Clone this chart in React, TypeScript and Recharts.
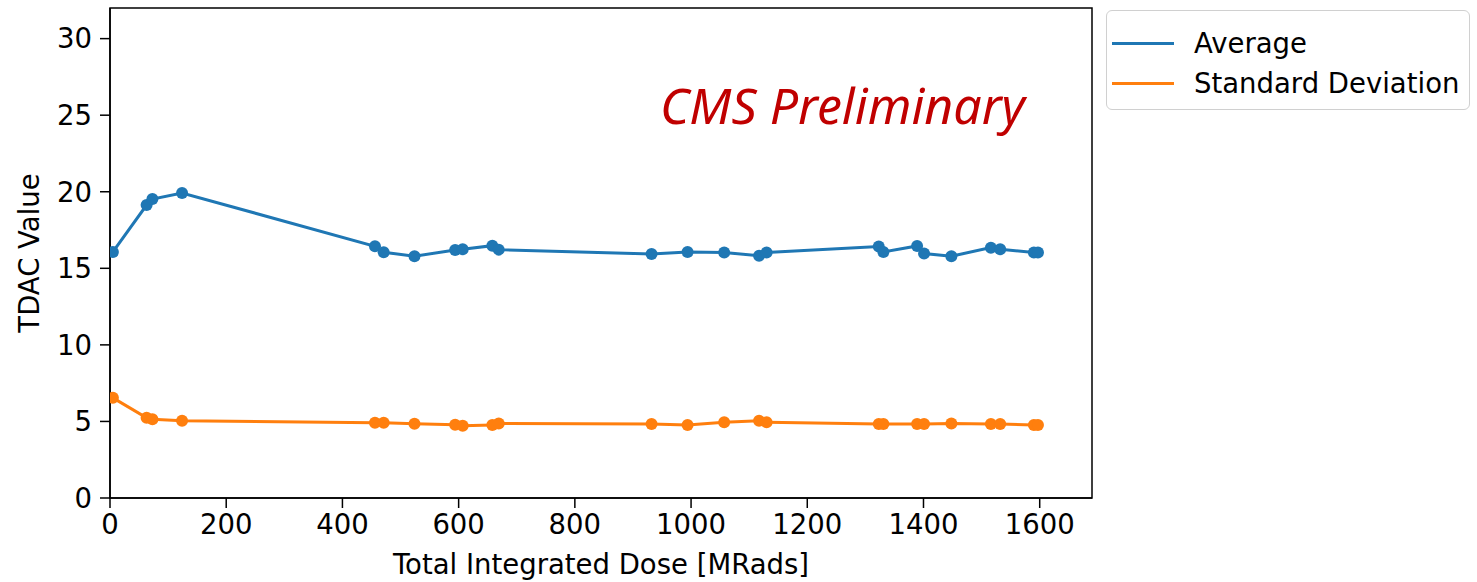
import { LineChart, Line, XAxis, YAxis, ReferenceArea, Label } from 'recharts';

// dose in MRads
const doses = [5, 63, 73, 124, 456, 471, 524, 594, 607, 658, 669, 932, 994, 1057, 1117, 1130, 1323, 1331, 1389, 1401, 1448, 1516, 1532, 1590, 1597];
const averages = [16.07, 19.13, 19.52, 19.92, 16.44, 16.05, 15.79, 16.2, 16.24, 16.48, 16.22, 15.94, 16.07, 16.03, 15.82, 16.04, 16.42, 16.07, 16.46, 15.96, 15.79, 16.35, 16.24, 16.04, 16.03];
const stdDevs = [6.54, 5.24, 5.15, 5.04, 4.91, 4.91, 4.85, 4.78, 4.72, 4.76, 4.87, 4.83, 4.76, 4.94, 5.04, 4.94, 4.83, 4.83, 4.83, 4.83, 4.87, 4.83, 4.83, 4.76, 4.76];
const xTicks = [0, 200, 400, 600, 800, 1000, 1200, 1400, 1600];
const yTicks = [0, 5, 10, 15, 20, 25, 30];

const BLUE = '#1f77b4';
const ORANGE = '#ff7f0e';
const FONT = '"DejaVu Sans", sans-serif';
const FS = 27.5;

const data = doses.map((x, i) => ({ x, avg: averages[i], std: stdDevs[i] }));

const tickStyle = { fill: '#000', fontSize: FS, fontFamily: FONT };

function LegendBox() {
  const items = [
    { label: 'Average', color: BLUE },
    { label: 'Standard Deviation', color: ORANGE },
  ];
  return (
    <div
      style={{
        position: 'absolute',
        left: 1106,
        top: 10,
        width: 364,
        height: 100,
        border: '1.5px solid #d0d0d0',
        borderRadius: 6,
        background: '#fff',
        boxSizing: 'border-box',
        fontFamily: FONT,
        fontSize: FS,
        color: '#000',
      }}
    >
      {items.map((it, i) => (
        <div key={it.label} style={{ position: 'absolute', left: 5, top: 16 + i * 40, display: 'flex', alignItems: 'center', whiteSpace: 'nowrap', lineHeight: '32px' }}>
          <div style={{ width: 62, height: 3, background: it.color, marginRight: 20 }} />
          <span>{it.label}</span>
        </div>
      ))}
    </div>
  );
}

export default function App() {
  return (
    <div style={{ position: 'absolute', left: 0, top: 0, width: 1477, height: 582, background: '#fff' }}>
      <LineChart width={1477} height={582} data={data} margin={{ top: 8, right: 385, bottom: 0, left: 0 }}>
        <XAxis
          type="number"
          dataKey="x"
          domain={[0, 1690]}
          ticks={xTicks}
          allowDataOverflow
          height={84}
          tickSize={10}
          tickMargin={6}
          tick={tickStyle}
          stroke="#000"
          strokeWidth={1.5}
        >
          <Label value="Total Integrated Dose [MRads]" position="insideBottom" offset={8} fill="#000" fontSize={FS} fontFamily={FONT} />
        </XAxis>
        <YAxis
          type="number"
          domain={[0, 32]}
          ticks={yTicks}
          allowDataOverflow
          width={110}
          tickSize={10}
          tickMargin={8}
          tick={tickStyle}
          stroke="#000"
          strokeWidth={1.5}
        >
          <Label
            content={() => (
              <text x={39} y={253} transform="rotate(-90 39 253)" textAnchor="middle" fill="#000" fontSize={FS} fontFamily={FONT}>
                TDAC Value
              </text>
            )}
          />
        </YAxis>
        <ReferenceArea x1={0} x2={1690} y1={0} y2={32} fill="none" stroke="#000" strokeWidth={1.5} ifOverflow="visible" />
        <Line
          type="linear"
          dataKey="avg"
          stroke={BLUE}
          strokeWidth={3}
          dot={{ r: 6, fill: BLUE, stroke: BLUE, strokeWidth: 0 }}
          activeDot={false}
          isAnimationActive={false}
        />
        <Line
          type="linear"
          dataKey="std"
          stroke={ORANGE}
          strokeWidth={3}
          dot={{ r: 6, fill: ORANGE, stroke: ORANGE, strokeWidth: 0 }}
          activeDot={false}
          isAnimationActive={false}
        />
      </LineChart>
      <div
        style={{
          position: 'absolute',
          left: 660,
          top: 80,
          fontFamily: '"Noto Sans", sans-serif',
          fontStyle: 'italic',
          fontSize: 50,
          color: '#c00000',
          whiteSpace: 'nowrap',
          lineHeight: 1,
        }}
      >
        CMS Preliminary
      </div>
      <LegendBox />
    </div>
  );
}
